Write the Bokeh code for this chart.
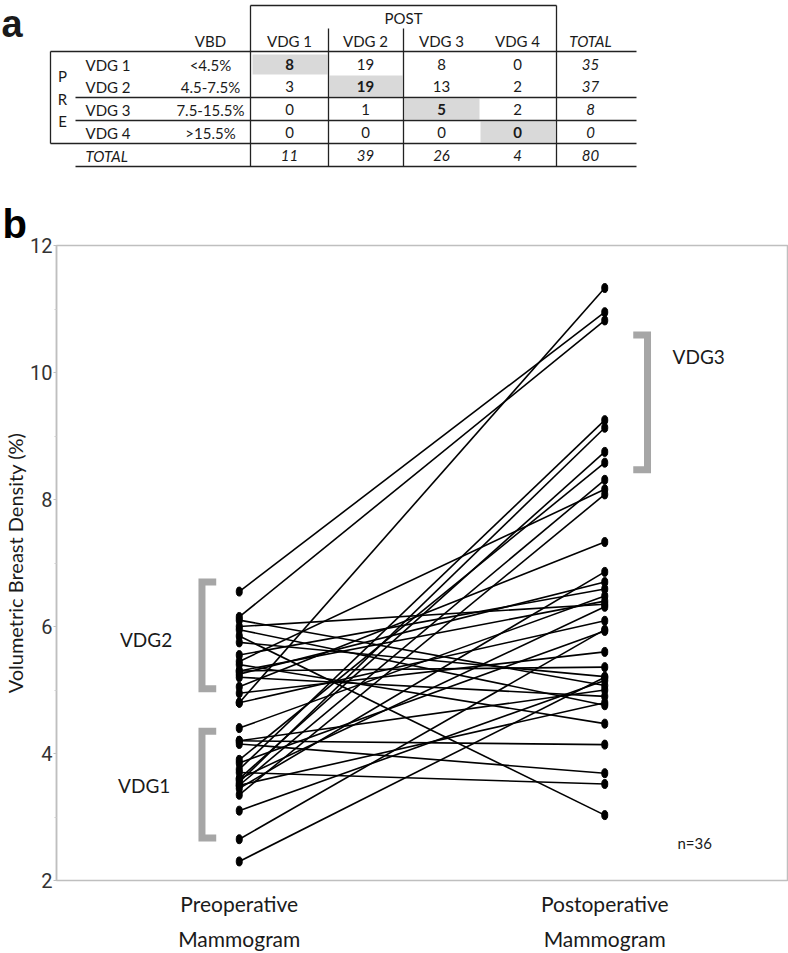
from bokeh.plotting import figure
from bokeh.models import Range1d, Label, FixedTicker, LinearAxis
from bokeh.core.properties import value
from bokeh.embed import file_html
from bokeh.resources import INLINE

# ---------------- Table data (panel a) ----------------
grade_labels = ["VDG 1", "VDG 2", "VDG 3", "VDG 4"]
vbd_ranges = ["<4.5%", "4.5-7.5%", "7.5-15.5%", ">15.5%"]
post_vdg1 = [8, 3, 0, 0]
post_vdg2 = [19, 19, 1, 0]
post_vdg3 = [8, 13, 5, 0]
post_vdg4 = [0, 2, 2, 0]
row_totals = [35, 37, 8, 0]
col_totals = [11, 39, 26, 4]
grand_total = 80

# ---------------- Paired data (panel b) ----------------
pre_vbd = [6.55, 6.15, 6.10, 6.00, 5.95, 5.85, 5.75, 5.55, 5.45, 5.40,
           5.30, 5.25, 5.20, 5.05, 4.95, 4.80, 4.80, 4.40, 4.20, 4.15,
           3.90, 3.85, 3.75, 3.70, 3.60, 3.55, 3.50, 3.45, 3.35, 3.10,
           3.60, 3.50, 2.65, 2.30, 4.20, 5.30]
post_vbd = [10.95, 10.82, 5.07, 6.35, 4.76, 3.03, 5.21, 6.59, 8.16, 4.47,
            5.36, 6.70, 4.90, 7.33, 5.60, 11.33, 6.09, 6.48, 4.14, 3.69,
            8.58, 5.93, 9.25, 3.52, 8.75, 9.13, 8.31, 6.86, 8.08, 5.15,
            6.31, 4.80, 5.95, 5.20, 5.00, 6.40]
group_top = ["Preoperative", "Postoperative"]
group_bottom = ["Mammogram", "Mammogram"]
bracket_vdg1 = [2.67, 4.35]
bracket_vdg2 = [5.02, 6.70]
bracket_vdg3 = [8.47, 10.59]

FONT = "Lato"
TXT = "#1a1a1a"

# ================= Table figure =================
t = figure(width=788, height=180, x_range=Range1d(0, 788), y_range=Range1d(180, 0),
           output_backend="svg", toolbar_location=None,
           min_border=0, min_border_left=0, min_border_right=0,
           min_border_top=0, min_border_bottom=0)
t.axis.visible = False
t.grid.visible = False
t.outline_line_color = None

col_x = [289, 365, 441, 517]
row_y = [64, 86, 109, 132]
tot_x = 590

t.quad(left=[252, 329, 404, 480], right=[327, 402, 479, 555],
       top=[54, 75, 98, 121], bottom=[74, 96, 119, 142],
       fill_color="#d9d9d9", line_color=None)

hx0 = [250, 50, 75, 75, 50, 75]
hx1 = [556, 636, 636, 636, 636, 636]
hy = [5, 51, 97, 120, 143, 166]
t.segment(x0=hx0, y0=hy, x1=hx1, y1=hy, line_color="#222222", line_width=1.3)
vx = [250, 556, 328, 403, 50]
vy0 = [5, 5, 28, 28, 51]
vy1 = [166, 166, 166, 166, 143]
t.segment(x0=vx, y0=vy0, x1=vx, y1=vy1, line_color="#222222", line_width=1.3)

def ttext(xs, ys, txt, style="normal", size="15px", align="center", font=FONT,
          baseline="middle"):
    t.text(x=xs, y=ys, text=txt, text_font=value(font), text_font_size=size,
           text_font_style=style, text_align=align, text_baseline=baseline,
           text_color=TXT)

ttext([403], [17], ["POST"])
ttext([210] + col_x, [40] * 5, ["VBD"] + grade_labels)
ttext([tot_x], [40], ["TOTAL"], style="italic")
ttext([85] * 4, row_y, grade_labels, align="left")
ttext([210] * 4, row_y, vbd_ranges)
ttext([62] * 3, [75, 98, 120], ["P", "R", "E"])

cols = [post_vdg1, post_vdg2, post_vdg3, post_vdg4]
for j, colvals in enumerate(cols):
    for i, v in enumerate(colvals):
        ttext([col_x[j]], [row_y[i]], [str(v)], style="bold" if i == j else "normal")
ttext([tot_x] * 4, row_y, [str(v) for v in row_totals], style="italic")
ttext([85], [155], ["TOTAL"], style="italic", align="left")
ttext(col_x + [tot_x], [155] * 5, [str(v) for v in col_totals] + [str(grand_total)],
      style="italic")
ttext([1], [23], ["a"], style="bold", size="38px", align="left",
      font="Liberation Sans", baseline="alphabetic")

# ================= Chart figure =================
p = figure(width=788, height=773, x_range=Range1d(0, 2), y_range=Range1d(2, 12),
           output_backend="svg", toolbar_location=None,
           min_border_left=55, min_border_right=1, min_border_top=65, min_border_bottom=71)
p.grid.visible = False
p.outline_line_color = "#bfbfbf"
p.outline_line_width = 1.5

p.title.text = "b"
p.title.text_font = "Liberation Sans"
p.title.text_font_size = "40px"
p.title.text_font_style = "bold"
p.title.text_color = "black"
p.title.align = "left"
p.title.offset = -54
p.title.standoff = 0

ya = p.yaxis[0]
ya.ticker = FixedTicker(ticks=[2, 4, 6, 8, 10, 12], minor_ticks=[3, 5, 7, 9, 11])
ya.axis_line_color = "#bfbfbf"
ya.axis_line_width = 1.5
ya.major_tick_line_color = "#bfbfbf"
ya.major_tick_out = 3
ya.major_tick_in = 0
ya.minor_tick_line_color = "#cfcfcf"
ya.minor_tick_out = 2
ya.minor_tick_in = 0
ya.major_label_text_font = "Roboto"
ya.major_label_text_font_size = "20px"
ya.major_label_text_color = "#333333"
ya.major_label_standoff = 1
ya.axis_label = "Volumetric Breast Density (%)"
ya.axis_label_text_font = FONT
ya.axis_label_text_font_size = "20px"
ya.axis_label_text_font_style = "normal"
ya.axis_label_text_color = TXT
ya.axis_label_standoff = 0

x_pre = 0.5
x_post = 1.5

def style_xaxis(ax, labels, standoff):
    ax.ticker = FixedTicker(ticks=[x_pre, x_post])
    ax.major_label_overrides = {x_pre: labels[0], x_post: labels[1]}
    ax.major_tick_out = 0
    ax.major_tick_in = 0
    ax.minor_tick_out = 0
    ax.minor_tick_in = 0
    ax.axis_line_color = None
    ax.major_label_text_font = FONT
    ax.major_label_text_font_size = "21px"
    ax.major_label_text_color = TXT
    ax.major_label_standoff = standoff

style_xaxis(p.xaxis[0], group_top, 10)
ax2 = LinearAxis()
style_xaxis(ax2, group_bottom, 7)
p.add_layout(ax2, "below")

xs = [[x_pre, x_post] for _ in pre_vbd]
ys = [[a, b] for a, b in zip(pre_vbd, post_vbd)]
p.multi_line(xs=xs, ys=ys, line_color="black", line_width=1.6)
p.ellipse(x=[x_pre] * len(pre_vbd), y=pre_vbd, width=6, height=9,
          width_units="screen", height_units="screen", fill_color="black", line_color="black")
p.ellipse(x=[x_post] * len(post_vbd), y=post_vbd, width=6, height=9,
          width_units="screen", height_units="screen", fill_color="black", line_color="black")

bx_l = [0.437, 0.398, 0.398, 0.437]
bx_r = [1.578, 1.617, 1.617, 1.578]
p.multi_line(xs=[bx_l, bx_l, bx_r],
             ys=[[bracket_vdg2[1], bracket_vdg2[1], bracket_vdg2[0], bracket_vdg2[0]],
                 [bracket_vdg1[1], bracket_vdg1[1], bracket_vdg1[0], bracket_vdg1[0]],
                 [bracket_vdg3[1], bracket_vdg3[1], bracket_vdg3[0], bracket_vdg3[0]]],
             line_color="#a6a6a6", line_width=7, line_join="miter", line_cap="butt")

def lab(x, y, txt, size="19px"):
    p.add_layout(Label(x=x, y=y, text=txt, text_font=FONT, text_font_size=size,
                       text_align="center", text_baseline="middle", text_color=TXT))

lab(0.245, 5.80, "VDG2")
lab(0.24, 3.50, "VDG1")
lab(1.757, 10.25, "VDG3")
lab(1.746, 2.59, "n=36", size="15px")

open("out.html", "w").write(file_html([t, p], INLINE))
